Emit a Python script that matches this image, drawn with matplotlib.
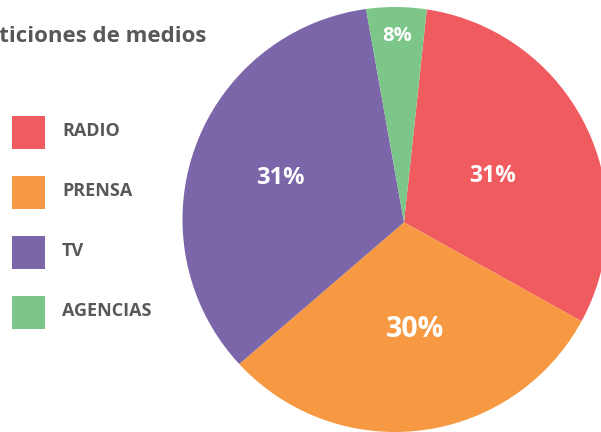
import numpy as np
import matplotlib
matplotlib.use("Agg")
import matplotlib.pyplot as plt
from matplotlib.patches import Wedge, Rectangle

# ---- data ----
categories = ["RADIO", "PRENSA", "TV", "AGENCIAS"]
shares = [31.4, 30.6, 33.5, 4.5]            # slice sizes as drawn
pct_labels = ["31%", "30%", "31%", "8%"]    # labels as printed
title = "Peticiones de medios"

# ---- style ----
colors = ["#F05B5F", "#F79943", "#7B66A9", "#7CC689"]
text_gray = "#58585A"
label_sizes = [16.5, 20.5, 17, 14.5]
label_dist = [99.6, 108, 131.6, 186]   # px from pie apex
W, H = 601, 432
FONT = ["Open Sans", "DejaVu Sans"]

fig = plt.figure(figsize=(W / 100, H / 100), dpi=100)
ax = fig.add_axes([0, 0, 1, 1])

apex = (404, H - 222.3)
outline_c = (395, H - 219.5)
outline_r = 212.5

wedges, _ = ax.pie(shares, colors=colors, startangle=90 - 6.1,
                   counterclock=False, center=apex, radius=240,
                   wedgeprops=dict(linewidth=0))
ax.set_xlim(0, W)
ax.set_ylim(0, H)
ax.set_aspect("equal")
ax.axis("off")

# white ring trimming the pie to its round outline
ax.add_patch(Wedge(outline_c, 900, 0, 360, width=900 - outline_r,
                   facecolor="white", edgecolor="none", zorder=2))

for w, lab, sz, d in zip(wedges, pct_labels, label_sizes, label_dist):
    mid = np.deg2rad((w.theta1 + w.theta2) / 2)
    x = apex[0] + d * np.cos(mid)
    y = apex[1] + d * np.sin(mid)
    ax.text(x, y, lab, ha="center", va="center", color="white",
            fontsize=sz, fontweight="bold", fontstyle="normal", family=FONT,
            zorder=5)

ax.text(206, H - 41.7, title, ha="right", va="baseline", color=text_gray,
        fontsize=16, fontweight="bold", fontstyle="normal", family=FONT,
        zorder=5)

# legend
sq = 33
row_gap = 60
lx, ly0 = 12, 116
for i, (cat, col) in enumerate(zip(categories, colors)):
    top = ly0 + i * row_gap
    ax.add_patch(Rectangle((lx, H - top - sq), sq, sq, facecolor=col,
                           edgecolor="none", zorder=5))
    ax.text(62, H - top - sq / 2 + 1, cat, ha="left", va="center",
            color=text_gray, fontsize=13, fontweight="bold",
            fontstyle="normal", family=FONT, zorder=5)

fig.savefig("out.png", dpi=100)
